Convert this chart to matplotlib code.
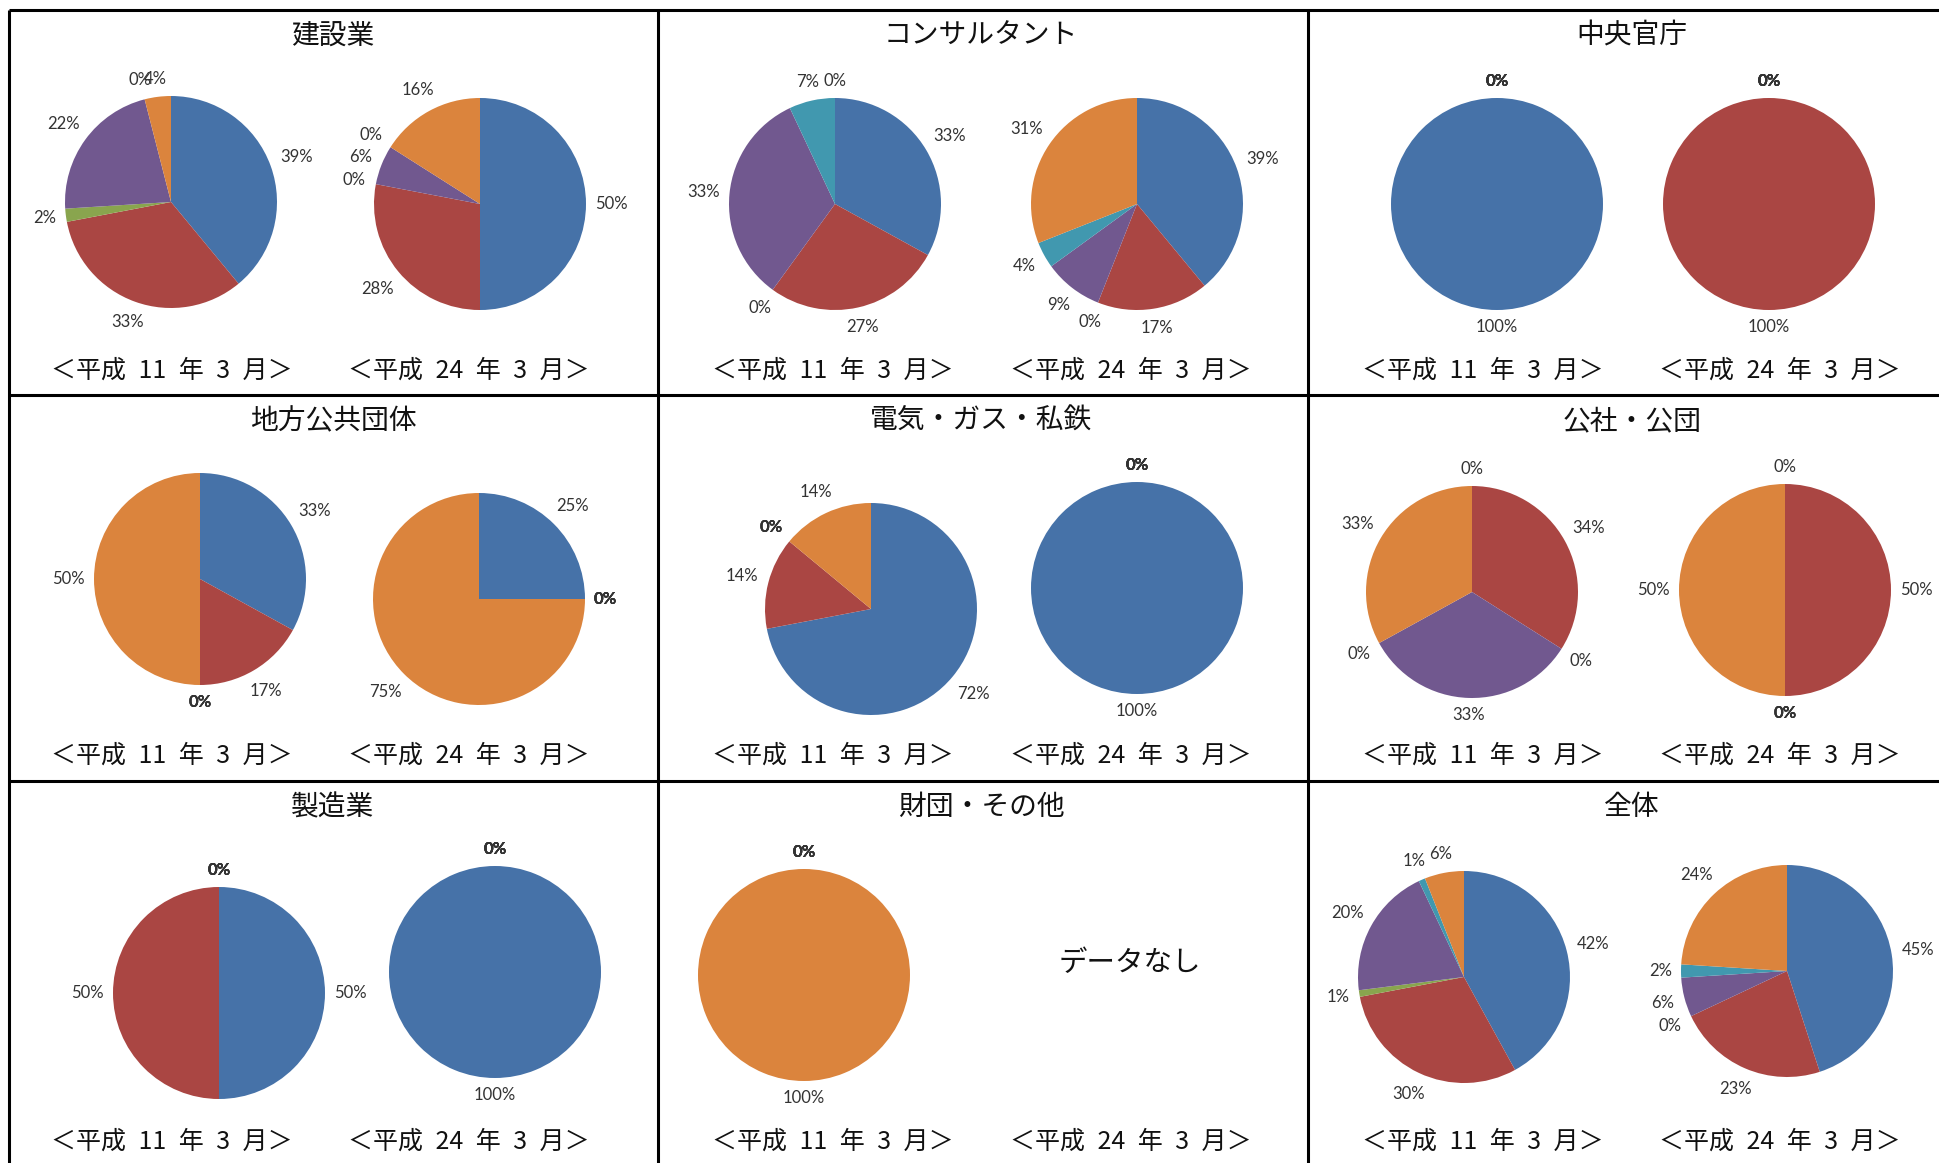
import numpy as np
import matplotlib
matplotlib.use("Agg")
import matplotlib.pyplot as plt

plt.rcParams['font.family'] = ['Noto Sans CJK JP', 'DejaVu Sans']

# panel titles, 3x3 grid read row by row
titles = ["建設業", "コンサルタント", "中央官庁",
          "地方公共団体", "電気・ガス・私鉄", "公社・公団",
          "製造業", "財団・その他", "全体"]
# en spaces, the original uses half-width Mincho spaces
period_labels = ["＜平成\u200211\u2002年\u20023\u2002月＞", "＜平成\u200224\u2002年\u20023\u2002月＞"]
no_data_text = "データなし"

# every pie uses the same slice order (Excel default palette)
slice_colors = ["#4672A8", "#AA4643", "#89A54E", "#71588F", "#4198AF", "#DB843D"]

# shares in % per panel
h11_shares = [[39, 33, 2, 22, 0, 4],
              [33, 27, 0, 33, 7, 0],
              [100, 0, 0, 0, 0, 0],
              [33, 17, 0, 0, 0, 50],
              [72, 14, 0, 0, 0, 14],
              [0, 34, 0, 33, 0, 33],
              [50, 50, 0, 0, 0, 0],
              [0, 0, 0, 0, 0, 100],
              [42, 30, 1, 20, 1, 6]]
h24_shares = [[50, 28, 0, 6, 0, 16],
              [39, 17, 0, 9, 4, 31],
              [0, 100, 0, 0, 0, 0],
              [25, 0, 0, 0, 0, 75],
              [100, 0, 0, 0, 0, 0],
              [0, 50, 0, 0, 0, 50],
              [100, 0, 0, 0, 0, 0],
              None,
              [45, 23, 0, 6, 2, 24]]

# layout in pixels (from top-left)
W, H = 1940, 1163
R = 106
h11_centers = [(171, 202), (835, 204), (1497, 204),
               (200, 579), (871, 609), (1472, 592),
               (219, 993), (804, 975), (1464, 977)]
h24_centers = [(480, 204), (1137, 204), (1769, 204),
               (479, 599), (1137, 588), (1785, 590),
               (495, 972), (1130, 963), (1787, 971)]
col_x = [9, 658, 1308]
row_y = [10, 395, 781]
title_x = [333, 981, 1632]
sub_x = [(172, 469), (833, 1131), (1483, 1780)]

fig = plt.figure(figsize=(W / 100, H / 100), dpi=100)
ax = fig.add_axes([0, 0, 1, 1])
renderer = fig.canvas.get_renderer()


def reset_axes():
    ax.set_xlim(0, W)
    ax.set_ylim(0, H)
    ax.set_aspect('auto')
    ax.axis('off')


def draw_pie(shares, cx, cy):
    wedges, _, pcts = ax.pie(shares, colors=slice_colors, startangle=90, counterclock=False,
                             center=(cx, H - cy), radius=R, frame=True,
                             autopct='%.0f%%', pctdistance=1.0,
                             wedgeprops=dict(linewidth=0),
                             textprops=dict(family='Lato', fontsize=12, color='#333333'))
    reset_axes()
    # labels sit just outside the rim, like Excel's "outside end"
    zero_dirs = [round(w.theta1 % 360, 1) for w, s in zip(wedges, shares) if s == 0]
    for w, t, s in zip(wedges, pcts, shares):
        t.set_ha('center')
        t.set_va('center')
        if s == 0 and zero_dirs.count(round(w.theta1 % 360, 1)) > 1:
            t.set_fontweight('bold')
        mid = np.deg2rad((w.theta1 + w.theta2) / 2)
        dx, dy = np.cos(mid), np.sin(mid)
        bb = t.get_window_extent(renderer)
        d = R + 9 + abs(dx) * bb.width / 2 + abs(dy) * bb.height / 2
        t.set_position((cx + d * dx, H - cy + d * dy))


for i, title in enumerate(titles):
    r, c = divmod(i, 3)
    ax.text(title_x[c], H - (row_y[r] + 26), title, fontsize=20,
            ha='center', va='center', color='#111111')
    for k, lab in enumerate(period_labels):
        ax.text(sub_x[c][k], H - (row_y[r] + 361), lab, fontsize=18,
                ha='center', va='center', color='#111111')
    draw_pie(h11_shares[i], *h11_centers[i])
    if h24_shares[i] is None:
        cx, cy = h24_centers[i]
        ax.text(cx, H - cy, no_data_text, fontsize=20.5, ha='center', va='center',
                color='#111111')
    else:
        draw_pie(h24_shares[i], *h24_centers[i])

# table grid
reset_axes()
ax.vlines(col_x, 0, H - row_y[0], color='black', lw=2.2, clip_on=False)
ax.hlines(H - np.array(row_y), col_x[0], W, color='black', lw=2.2, clip_on=False)

fig.savefig("out.png", dpi=100)
